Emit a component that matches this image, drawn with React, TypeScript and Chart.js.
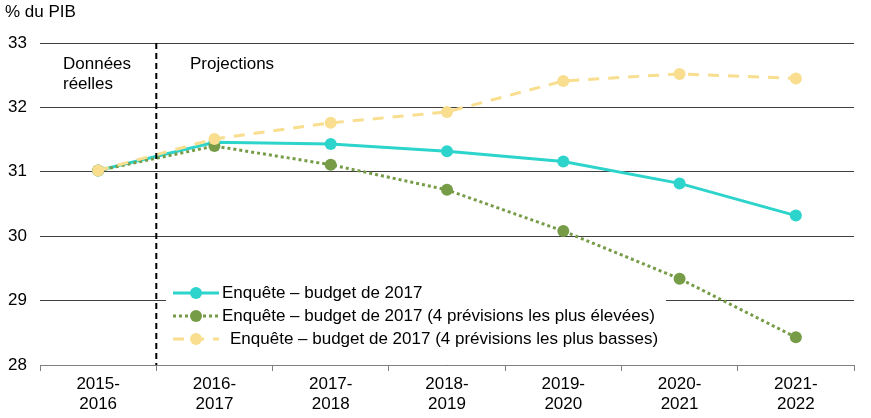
import { useEffect, useRef } from "react"
import { Chart, registerables } from "chart.js"
import type { Plugin } from "chart.js"

Chart.register(...registerables)

const years = [
  ["2015-", "2016"],
  ["2016-", "2017"],
  ["2017-", "2018"],
  ["2018-", "2019"],
  ["2019-", "2020"],
  ["2020-", "2021"],
  ["2021-", "2022"],
]

const survey = [31.02, 31.46, 31.43, 31.32, 31.16, 30.82, 30.32]
const surveyHigh = [31.02, 31.4, 31.11, 30.72, 30.08, 29.34, 28.43]
const surveyLow = [31.02, 31.51, 31.76, 31.93, 32.41, 32.52, 32.45]

const legendLabels = [
  "Enquête – budget de 2017",
  "Enquête – budget de 2017 (4 prévisions les plus élevées)",
  "Enquête – budget de 2017 (4 prévisions les plus basses)",
]

const FONT = "'Liberation Sans', Arial, sans-serif"
const FS = 17
const CYAN = "#2dd4cb"
const GREEN = "#769c47"
const YELLOW = "#f8de8e"

const annotations: Plugin<"line"> = {
  id: "annotations",
  afterDraw(chart) {
    const { ctx, chartArea, scales } = chart
    const x = scales.x
    const splitX = (x.getPixelForValue(0) + x.getPixelForValue(1)) / 2

    ctx.save()
    // vertical separator between actual data and projections
    ctx.strokeStyle = "#000"
    ctx.lineWidth = 2
    ctx.setLineDash([6, 4])
    ctx.beginPath()
    ctx.moveTo(splitX, chartArea.top)
    ctx.lineTo(splitX, chartArea.bottom)
    ctx.stroke()
    ctx.setLineDash([])

    ctx.fillStyle = "#000"
    ctx.font = `${FS}px ${FONT}`
    ctx.textBaseline = "middle"
    ctx.fillText("Données", 63, 64)
    ctx.fillText("réelles", 63, 84)
    ctx.fillText("Projections", 190, 64)
    ctx.fillText("% du PIB", 5, 12)

    // legend box
    ctx.fillStyle = "#fff"
    ctx.fillRect(166, 282, 500, 68)

    const rows = [
      { color: CYAN, dash: [] as number[], text: legendLabels[0], tx: 222 },
      { color: GREEN, dash: [3, 3], text: legendLabels[1], tx: 222 },
      { color: YELLOW, dash: [11, 9], text: legendLabels[2], tx: 230 },
    ]
    rows.forEach((r, i) => {
      const y = 293 + i * 23
      ctx.strokeStyle = r.color
      ctx.lineWidth = 3
      ctx.setLineDash(r.dash)
      ctx.beginPath()
      ctx.moveTo(173, y)
      ctx.lineTo(219, y)
      ctx.stroke()
      ctx.setLineDash([])
      ctx.fillStyle = r.color
      ctx.beginPath()
      ctx.arc(196, y, 6, 0, Math.PI * 2)
      ctx.fill()
      ctx.fillStyle = "#000"
      ctx.fillText(r.text, r.tx, y)
    })
    ctx.restore()
  },
}

export default function App() {
  const chartRef = useRef<HTMLCanvasElement>(null)
  const chartInstance = useRef<Chart | null>(null)

  useEffect(() => {
    if (!chartRef.current) return
    if (chartInstance.current) chartInstance.current.destroy()
    const ctx = chartRef.current.getContext("2d")
    if (!ctx) return

    const line = {
      borderWidth: 3,
      pointRadius: 6,
      pointBorderWidth: 0,
      tension: 0,
    }

    chartInstance.current = new Chart(ctx, {
      type: "line",
      data: {
        labels: years,
        datasets: [
          {
            ...line,
            label: legendLabels[0],
            data: survey,
            borderColor: CYAN,
            backgroundColor: CYAN,
            order: 2,
          },
          {
            ...line,
            label: legendLabels[1],
            data: surveyHigh,
            borderColor: GREEN,
            backgroundColor: GREEN,
            borderDash: [3, 3],
            order: 1,
          },
          {
            ...line,
            label: legendLabels[2],
            data: surveyLow,
            borderColor: YELLOW,
            backgroundColor: YELLOW,
            borderDash: [11, 9],
            order: 0,
          },
        ],
      },
      options: {
        animation: false,
        responsive: true,
        maintainAspectRatio: false,
        layout: { padding: { top: 43, right: 17, left: 0, bottom: 0 } },
        plugins: {
          legend: { display: false },
          tooltip: { enabled: false },
        },
        scales: {
          x: {
            offset: true,
            grid: {
              offset: true,
              drawOnChartArea: false,
              drawTicks: true,
              tickLength: 6,
              color: "#808080",
            },
            border: { color: "#808080", width: 1 },
            ticks: {
              color: "#000",
              font: { family: FONT, size: FS, lineHeight: 1.2 },
              padding: 3,
              maxRotation: 0,
            },
            afterFit: (scale) => {
              scale.height = 53
            },
          },
          y: {
            min: 28,
            max: 33,
            grid: { color: "#404040", lineWidth: 1, drawTicks: false },
            border: { display: false },
            ticks: {
              stepSize: 1,
              color: "#000",
              padding: 13,
              font: { family: FONT, size: FS },
            },
            afterFit: (scale) => {
              scale.width = 40
            },
          },
        },
      },
      plugins: [annotations],
    })

    return () => {
      if (chartInstance.current) {
        chartInstance.current.destroy()
        chartInstance.current = null
      }
    }
  }, [])

  return (
    <div style={{ position: "fixed", left: 0, top: 0, width: 871, height: 418, background: "#fff" }}>
      <canvas ref={chartRef} />
    </div>
  )
}
